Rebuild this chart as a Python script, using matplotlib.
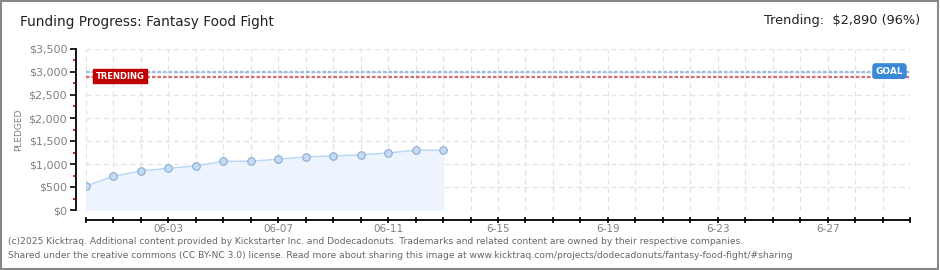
import matplotlib
matplotlib.use("Agg")
import matplotlib.pyplot as plt
from matplotlib.patches import Rectangle
from matplotlib.ticker import FixedLocator, MultipleLocator, FuncFormatter

days = list(range(14))
pledged = [520, 735, 850, 905, 960, 1060, 1060, 1105, 1155, 1175, 1200, 1240, 1300, 1300]
goal = 3000
trending = 2890
tick_days = [3, 7, 11, 15, 19, 23, 27]
tick_labels = ["06-03", "06-07", "06-11", "6-15", "6-19", "6-23", "6-27"]
y_ticks = [0, 500, 1000, 1500, 2000, 2500, 3000, 3500]
y_minor = [250, 750, 1250, 1750, 2250, 2750, 3250]
title = "Funding Progress: Fantasy Food Fight"
trend_text = "Trending:  $2,890 (96%)"
footer1 = "(c)2025 Kicktraq. Additional content provided by Kickstarter Inc. and Dodecadonuts. Trademarks and related content are owned by their respective companies."
footer2 = "Shared under the creative commons (CC BY-NC 3.0) license. Read more about sharing this image at www.kicktraq.com/projects/dodecadonuts/fantasy-food-fight/#sharing"

PX = 72 / 100  # points per pixel

fig = plt.figure(figsize=(9.4, 2.7), dpi=100)
fig.patch.set_facecolor("white")
fig.add_artist(Rectangle((0.001, 0.002), 0.997, 0.995, transform=fig.transFigure,
                         fill=False, edgecolor="#888888", linewidth=1.5))

ax = fig.add_axes([86/940, 1-210/270, (910-86)/940, (210-49)/270])
ax.set_xlim(0, 30)
ax.set_ylim(0, 3500)

for s in ["top", "right"]:
    ax.spines[s].set_visible(False)
ax.spines["left"].set_position(("outward", 10 * PX))
ax.spines["bottom"].set_position(("outward", 10 * PX))
for s in ["left", "bottom"]:
    ax.spines[s].set_color("black")
    ax.spines[s].set_linewidth(1.3)

# grid
for d in range(0, 31):
    ax.axvline(d, color="#e2e2e2", linestyle=(0, (4, 3)), linewidth=0.9, zorder=0)
for yv in y_ticks:
    ax.axhline(yv, color="#e2e2e2", linestyle=(0, (4, 3)), linewidth=0.9, zorder=0)

ax.fill_between(days, pledged, 0, color="#edf4fd", zorder=1)
ax.plot(days, pledged, color="#b8d6f5", linewidth=1, zorder=2)
ax.plot(days, pledged, linestyle="none", marker="o", markersize=7.5 * PX * 1.0,
        markerfacecolor="#c4dcf7", markeredgecolor="#92b1d1", markeredgewidth=0.9, zorder=3)

ax.axhline(goal, color="#94b9e3", linestyle=(0, (1.6, 0.9)), linewidth=2.2 * PX, zorder=2)
ax.axhline(trending, color="#d86a6a", linestyle=(0, (1.6, 0.9)), linewidth=2.2 * PX, zorder=2)

# labels
ax.text(0.35, trending + 15, "TRENDING", color="white", fontsize=6, fontweight="bold",
        va="center", ha="left", zorder=5,
        bbox=dict(boxstyle="square,pad=0.3", facecolor="#c00000", edgecolor="#c00000"))
ax.text(28.75, goal + 20, "GOAL", color="white", fontsize=6.5, fontweight="bold",
        va="center", ha="left", zorder=5,
        bbox=dict(boxstyle="round,pad=0.3,rounding_size=0.3", facecolor="#3a88d8", edgecolor="#3a88d8"))

ax.yaxis.set_major_locator(FixedLocator(y_ticks))
ax.yaxis.set_minor_locator(FixedLocator(y_minor))
ax.yaxis.set_major_formatter(FuncFormatter(lambda v, p: f"${int(v):,}"))
ax.tick_params(axis="y", which="major", length=6 * PX, width=1.2, color="black",
               labelsize=8, labelcolor="#808080", pad=2)
ax.tick_params(axis="y", which="minor", length=3.5 * PX, width=1.2, color="#d00000")

ax.xaxis.set_major_locator(FixedLocator(tick_days))
ax.xaxis.set_minor_locator(MultipleLocator(1))
ax.set_xticklabels(tick_labels)
ax.tick_params(axis="x", which="both", direction="inout", length=6 * PX, width=1.2, color="black",
               labelsize=7.5, labelcolor="#808080", pad=1)

fig.text(19/940, 1-130/270, "PLEDGED", fontsize=6.5, color="#808080", rotation=90,
         va="center", ha="center")

fig.text(20/940, 1-22/270, title, fontsize=9.8, color="#222222", va="center", ha="left")
fig.text(920/940, 1-21/270, trend_text, fontsize=9.3, color="#222222", va="center", ha="right")
fig.text(8/940, 1-242/270, footer1, fontsize=6.6, color="#666666", va="center", ha="left")
fig.text(8/940, 1-256/270, footer2, fontsize=6.6, color="#666666", va="center", ha="left")

fig.savefig("out.png", dpi=100, facecolor="white")
